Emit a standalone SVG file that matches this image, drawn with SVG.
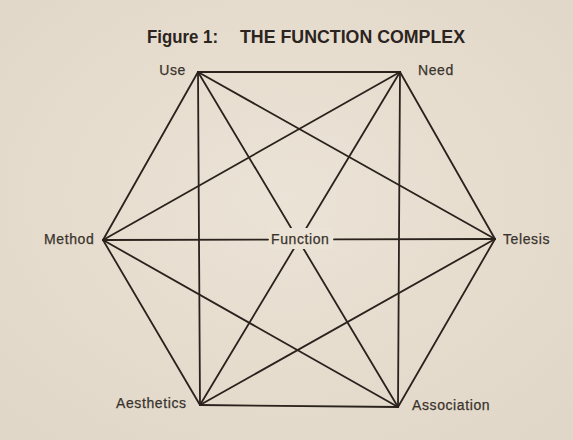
<svg xmlns="http://www.w3.org/2000/svg" width="573" height="440" viewBox="0 0 573 440">
<defs>
<radialGradient id="bg" cx="0.5" cy="0.45" r="0.7">
<stop offset="0" stop-color="#ebe3d6"/>
<stop offset="1" stop-color="#e1d7c8"/>
</radialGradient>
<style>
.lbl{font-family:"Liberation Sans",Arial,sans-serif;font-size:14px;letter-spacing:0.6px;fill:#3a332d;stroke:#3a332d;stroke-width:0.25}
.ttl{font-family:"Liberation Sans",Arial,sans-serif;font-size:17.5px;font-weight:bold;fill:#2b2420}
.edges line{stroke:#2a221c;stroke-width:1.8;stroke-linecap:round}
</style>
</defs>
<rect width="573" height="440" fill="url(#bg)"/>
<g id="title">
<text class="ttl" x="147" y="43" textLength="71" lengthAdjust="spacingAndGlyphs">Figure 1:</text>
<text class="ttl" x="240" y="43" textLength="225" lengthAdjust="spacingAndGlyphs">THE FUNCTION COMPLEX</text>
</g>
<g class="edges" id="connectors">
<line x1="198" y1="72" x2="400" y2="72"/>
<line x1="198" y1="72" x2="103" y2="240"/>
<line x1="198" y1="72" x2="495" y2="239"/>
<line x1="198" y1="72" x2="200" y2="405"/>
<line x1="198" y1="72" x2="398" y2="407"/>
<line x1="400" y1="72" x2="103" y2="240"/>
<line x1="400" y1="72" x2="495" y2="239"/>
<line x1="400" y1="72" x2="200" y2="405"/>
<line x1="400" y1="72" x2="398" y2="407"/>
<line x1="103" y1="240" x2="268" y2="239.6"/>
<line x1="334" y1="239.4" x2="495" y2="239"/>
<line x1="103" y1="240" x2="200" y2="405"/>
<line x1="103" y1="240" x2="398" y2="407"/>
<line x1="495" y1="239" x2="200" y2="405"/>
<line x1="495" y1="239" x2="398" y2="407"/>
<line x1="200" y1="405" x2="398" y2="407"/>
</g>
<g id="node-use"><text class="lbl" x="186" y="75" text-anchor="end">Use</text></g>
<g id="node-need"><text class="lbl" x="418" y="75">Need</text></g>
<g id="node-method"><text class="lbl" x="44" y="244">Method</text></g>
<g id="node-function">
<rect x="269" y="228" width="64" height="21" fill="#ebe3d6"/>
<text class="lbl" x="271" y="244">Function</text>
</g>
<g id="node-telesis"><text class="lbl" x="503" y="244">Telesis</text></g>
<g id="node-aesthetics"><text class="lbl" x="116" y="408">Aesthetics</text></g>
<g id="node-association"><text class="lbl" x="412" y="410">Association</text></g>
</svg>
